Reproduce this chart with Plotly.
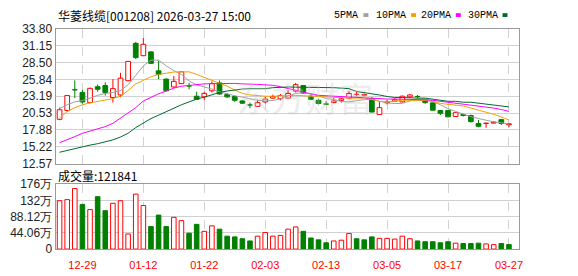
import plotly.graph_objects as go

# ---------------- data ----------------
dates = ["12-24", "12-25", "12-26", "12-29", "12-30", "12-31", "01-05", "01-06", "01-07", "01-08",
         "01-09", "01-12", "01-13", "01-14", "01-15", "01-16", "01-19", "01-20", "01-21", "01-22",
         "01-23", "01-26", "01-27", "01-28", "01-29", "01-30", "02-02", "02-03", "02-04", "02-05",
         "02-06", "02-09", "02-10", "02-11", "02-12", "02-13", "02-24", "02-25", "02-26", "02-27",
         "03-02", "03-03", "03-04", "03-05", "03-06", "03-09", "03-10", "03-11", "03-12", "03-13",
         "03-16", "03-17", "03-18", "03-19", "03-20", "03-23", "03-24", "03-25", "03-26", "03-27"]

open_ = [19.55, 20.94, 24.20, 23.78, 22.18, 24.68, 24.88, 22.99, 23.38, 25.63,
         31.51, 29.57, 30.17, 27.18, 25.88, 24.64, 25.17, 24.80, 23.19, 23.09,
         24.04, 25.28, 23.44, 23.14, 22.44, 21.80, 21.59, 22.29, 22.89, 22.78,
         22.89, 24.00, 24.88, 23.19, 22.54, 21.96, 22.18, 22.54, 22.89, 23.45,
         23.35, 22.78, 20.30, 22.15, 22.39, 22.29, 23.09, 23.16, 22.59, 22.14,
         20.94, 20.94, 20.00, 20.30, 20.15, 18.89, 18.90, 18.95, 19.50, 18.70]
high = [21.39, 23.35, 25.68, 24.19, 24.53, 25.03, 25.38, 25.88, 26.88, 28.70,
        31.75, 32.35, 30.25, 28.76, 26.00, 26.37, 27.10, 25.28, 23.89, 23.89,
        25.53, 25.68, 23.68, 23.29, 22.59, 22.18, 22.63, 23.14, 23.44, 23.53,
        24.13, 25.28, 24.95, 23.44, 22.78, 22.39, 22.89, 22.89, 24.04, 23.93,
        23.63, 23.04, 22.29, 22.63, 22.89, 23.29, 23.53, 23.38, 22.65, 22.20,
        21.00, 21.00, 20.65, 20.45, 20.30, 19.45, 18.98, 19.25, 19.60, 18.89]
low = [19.40, 20.79, 22.89, 22.04, 22.09, 23.89, 23.29, 22.18, 23.04, 25.55,
       29.02, 29.50, 28.30, 25.88, 23.95, 24.53, 25.10, 24.28, 22.60, 22.54,
       23.78, 23.44, 22.89, 22.29, 21.99, 21.29, 21.55, 22.04, 22.78, 22.54,
       22.80, 23.78, 23.53, 22.65, 21.89, 21.79, 22.09, 22.18, 22.78, 23.19,
       23.14, 20.65, 20.28, 21.89, 22.29, 22.20, 22.94, 22.89, 21.99, 20.95,
       20.24, 19.90, 19.98, 20.00, 19.04, 18.30, 18.21, 18.95, 18.66, 18.30]
close = [21.05, 23.29, 24.18, 22.29, 24.43, 24.28, 23.78, 24.38, 26.03, 28.67,
         29.27, 31.36, 28.37, 26.62, 24.04, 25.53, 27.03, 24.78, 22.69, 23.63,
         25.17, 23.53, 23.09, 22.54, 22.09, 21.79, 22.18, 22.74, 23.14, 23.29,
         23.63, 25.00, 23.68, 22.69, 22.04, 21.94, 22.44, 22.78, 23.63, 23.50,
         23.45, 20.69, 21.39, 22.29, 22.63, 23.19, 23.38, 23.12, 22.18, 20.99,
         20.49, 19.94, 20.60, 20.15, 19.19, 18.45, 18.95, 19.10, 18.89, 18.85]

# volume in units of 万 (10,000 lots)
volume = [131, 134, 164, 121, 107, 142, 104, 124, 131, 41,
          149, 118, 61, 92, 61, 86, 77, 43, 67, 48,
          63, 54, 35, 33, 28, 22, 35, 45, 35, 37,
          54, 60, 48, 30, 25, 17, 22, 24, 42, 28,
          25, 33, 29, 29, 27, 35, 28, 22, 20, 20,
          17, 20, 16, 15, 15, 16, 14, 12, 15, 12.1841]

ma5 = [21.24, 21.84, 22.29, 22.51, 22.89, 23.33, 23.63, 23.78, 24.08, 24.98,
       26.47, 27.97, 28.87, 28.87, 27.97, 27.22, 26.62, 25.58, 24.98, 24.68,
       24.31, 23.89, 23.56, 23.26, 23.04, 22.74, 22.54, 22.44, 22.51, 22.78,
       23.26, 23.63, 23.71, 23.56, 23.26, 22.81, 22.66, 22.36, 22.29, 22.44,
       22.66, 22.66, 22.36, 22.14, 22.03, 22.06, 22.44, 22.74, 22.74, 22.36,
       21.84, 21.24, 20.79, 20.34, 19.97, 19.67, 19.37, 19.15, 19.00, 18.80]
ma10 = [19.75, 20.79, 21.39, 21.84, 22.14, 22.36, 22.59, 22.81, 23.19, 24.08,
        25.13, 25.73, 26.25, 26.62, 26.85, 27.00, 27.03, 27.03, 26.62, 26.18,
        25.73, 25.32, 24.76, 24.16, 23.63, 23.38, 23.26, 23.19, 23.19, 23.26,
        23.33, 23.33, 23.26, 23.19, 23.11, 23.04, 22.96, 22.89, 22.89, 22.89,
        22.89, 22.74, 22.36, 22.29, 22.44, 22.54, 22.54, 22.54, 22.51, 22.36,
        22.06, 21.91, 21.84, 21.65, 21.32, 21.02, 20.72, 20.34, 19.90, 19.45]
ma20 = [15.86, 16.31, 16.83, 17.35, 17.73, 18.10, 18.40, 18.92, 19.75, 20.49,
        21.39, 22.44, 23.04, 23.56, 24.01, 24.46, 24.76, 24.90, 25.05, 25.13,
        25.17, 25.20, 25.20, 25.20, 25.13, 25.13, 25.05, 24.98, 24.90, 24.68,
        24.38, 24.08, 23.78, 23.56, 23.33, 23.26, 23.14, 23.11, 23.08, 22.99,
        22.93, 22.84, 22.74, 22.74, 22.74, 22.74, 22.74, 22.69, 22.63, 22.54,
        22.39, 22.29, 22.09, 21.99, 21.84, 21.61, 21.47, 21.32, 21.09, 20.79]
ma30 = [14.36, 14.66, 14.96, 15.26, 15.49, 15.71, 16.01, 16.31, 16.76, 17.35,
        18.25, 19.00, 19.67, 20.20, 20.79, 21.32, 21.84, 22.29, 22.74, 23.04,
        23.41, 23.78, 24.01, 24.19, 24.31, 24.38, 24.38, 24.38, 24.53, 24.64,
        24.64, 24.61, 24.61, 24.53, 24.53, 24.53, 24.53, 24.46, 24.38, 23.93,
        23.78, 23.56, 23.38, 23.14, 22.99, 22.99, 22.89, 22.89, 22.89, 22.69,
        22.54, 22.39, 22.39, 22.24, 22.24, 22.09, 21.94, 21.79, 21.65, 21.50]

price_ticks = [12.57, 15.22, 17.88, 20.53, 23.19, 25.84, 28.50, 31.15, 33.80]
vol_ticks = [0, 44.06, 88.12, 132.18, 176.24]
vol_tick_text = ["0", "44.06万", "88.12万", "132万", "176万"]
date_ticks = ["12-29", "01-12", "01-22", "02-03", "02-13", "03-05", "03-17", "03-27"]
ma_names = ["5PMA", "10PMA", "20PMA", "30PMA"]

title_text = "华菱线缆[001208] 2026-03-27 15:00"

# ---------------- styles ----------------
RED = "#ff0000"
GREEN = "#008000"
MA_COLORS = ["#a0a0a0", "#f2a100", "#ff00ff", "#006b30"]
W, H = 578, 276
X0, X1 = 56, 523
P_TOP, P_BOT = 23, 165
V_TOP, V_BOT = 186.5, 255

def px_x(p):
    return p / W

def px_y(p):
    return 1 - p / H

n = len(dates)
up = [close[i] > open_[i] for i in range(n)]
body_base = [min(open_[i], close[i]) for i in range(n)]
body_h = [max(abs(close[i] - open_[i]), 0.03) for i in range(n)]
fill = ["#ffffff" if u else GREEN for u in up]
edge = [RED if u else GREEN for u in up]

wick = {True: ([], []), False: ([], [])}
for i in range(n):
    top = max(open_[i], close[i])
    bot = min(open_[i], close[i])
    xs, ys = wick[up[i]]
    if high[i] > top:
        xs += [dates[i], dates[i], None]
        ys += [top, high[i], None]
    if low[i] < bot:
        xs += [dates[i], dates[i], None]
        ys += [bot, low[i], None]

vol_up = [True] + [close[i] >= close[i - 1] for i in range(1, n)]

fig = go.Figure()

# candle bodies
fig.add_trace(go.Bar(x=dates, y=body_h, base=body_base, width=0.62,
                     marker=dict(color=fill, line=dict(color=edge, width=1)),
                     xaxis="x", yaxis="y", showlegend=False, hoverinfo="skip"))
# wicks
for u, col in [(True, RED), (False, GREEN)]:
    xs, ys = wick[u]
    fig.add_trace(go.Scatter(x=xs, y=ys, mode="lines", line=dict(color=col, width=1),
                             xaxis="x", yaxis="y", showlegend=False, hoverinfo="skip"))
# moving averages
for vals, col in zip([ma5, ma10, ma20, ma30], MA_COLORS):
    fig.add_trace(go.Scatter(x=dates, y=vals, mode="lines", line=dict(color=col, width=1),
                             xaxis="x", yaxis="y", showlegend=False, hoverinfo="skip"))
# volume
fig.add_trace(go.Bar(x=dates, y=volume, width=0.6,
                     marker=dict(color=["#ffffff" if u else GREEN for u in vol_up],
                                 line=dict(color=[RED if u else GREEN for u in vol_up], width=1)),
                     xaxis="x2", yaxis="y2", showlegend=False, hoverinfo="skip"))

xcommon = dict(domain=[px_x(X0), px_x(X1)], type="category", categoryorder="array",
               categoryarray=dates, range=[-0.52, 60.37], tickvals=date_ticks,
               showgrid=True, gridcolor="#d2d2d2", griddash="dash", gridwidth=1,
               showline=True, mirror=True, linecolor="#9a9a9a", linewidth=1,
               zeroline=False, ticks="", fixedrange=True)
ycommon = dict(showgrid=True, gridcolor="#d0d0d0", gridwidth=1, showline=True, mirror=True,
               linecolor="#9a9a9a", linewidth=1, zeroline=False, ticks="",
               tickfont=dict(family="Arial, Liberation Sans", size=12, color="#222222"),
               fixedrange=True)

annotations = [
    dict(text=title_text, x=px_x(X0), y=px_y(9), xref="paper", yref="paper",
         xanchor="left", yanchor="middle", showarrow=False,
         font=dict(family="Noto Sans CJK SC", size=12, color="#000000")),
    dict(text="成交量:" + str(int(round(volume[-1] * 10000))), x=px_x(X0), y=px_y(177),
         xref="paper", yref="paper", xanchor="left", yanchor="middle", showarrow=False,
         font=dict(family="Noto Sans CJK SC", size=12, color="#000000")),
    dict(text="东方财富", x=px_x(307), y=px_y(95), xref="paper", yref="paper",
         xanchor="center", yanchor="middle", showarrow=False,
         font=dict(family="Noto Sans CJK SC", size=34, color="rgba(200,200,200,0.35)")),
]
shapes = []
legend_right = [363, 411, 456, 503]
for name, col, xr in zip(ma_names, MA_COLORS, legend_right):
    annotations.append(dict(text=name, x=px_x(xr), y=px_y(8.5), xref="paper", yref="paper",
                            xanchor="right", yanchor="middle", showarrow=False,
                            font=dict(family="Liberation Mono", size=10, color="#000000")))
    shapes.append(dict(type="rect", xref="paper", yref="paper",
                       x0=px_x(xr + 3), x1=px_x(xr + 8), y0=px_y(10.5), y1=px_y(6.5),
                       fillcolor=col, line=dict(width=0)))

fig.update_layout(
    width=W, height=H, margin=dict(l=0, r=0, t=0, b=0),
    paper_bgcolor="#ffffff", plot_bgcolor="#ffffff",
    showlegend=False, barmode="overlay",
    xaxis=dict(anchor="y", showticklabels=False, **xcommon),
    xaxis2=dict(anchor="y2", showticklabels=True, ticklabelstandoff=6,
                tickfont=dict(family="Arial, Liberation Sans", size=11, color=RED), **xcommon),
    yaxis=dict(domain=[px_y(P_BOT), px_y(P_TOP)], anchor="x", range=[12.57, 33.80],
               tickvals=price_ticks, ticktext=["%.2f" % v for v in price_ticks], **ycommon),
    yaxis2=dict(domain=[px_y(V_BOT), px_y(V_TOP)], anchor="x2", range=[0, 176.24],
                tickvals=vol_ticks, ticktext=vol_tick_text, **ycommon),
    annotations=annotations, shapes=shapes,
)

fig.write_html("out.html", config={"displayModeBar": False})
